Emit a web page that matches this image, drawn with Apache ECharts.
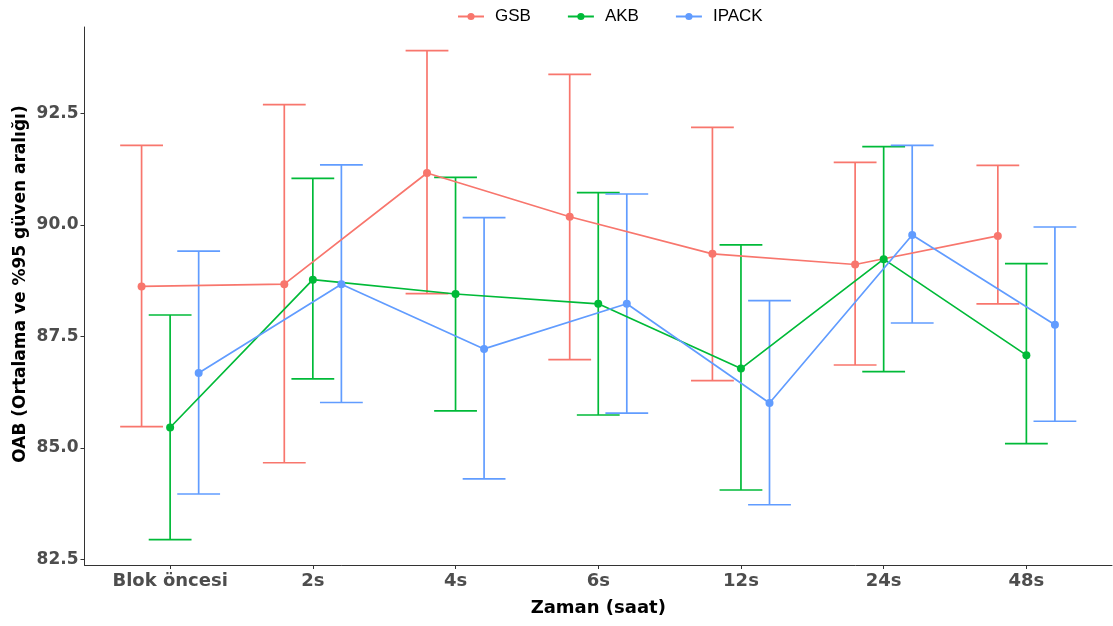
<!DOCTYPE html>
<html><head><meta charset="utf-8">
<script src="https://cdn.jsdelivr.net/npm/echarts@6/dist/echarts.min.js"></script>
<style>html,body{margin:0;padding:0;background:#fff}#c{width:1113px;height:626px}</style>
</head><body><div id="c"></div>
<script>
const categories = ['Blok öncesi','2s','4s','6s','12s','24s','48s'];
const groups = ['GSB','AKB','IPACK'];
const gsbMean  = [88.62,88.67,91.16,90.18,89.35,89.11,89.75];
const gsbLower = [85.48,84.67,88.46,86.98,86.51,86.86,88.23];
const gsbUpper = [91.78,92.69,93.90,93.37,92.18,91.40,91.33];
const akbMean  = [85.46,88.77,88.45,88.23,86.78,89.23,87.08];
const akbLower = [82.95,86.55,85.83,85.74,84.06,86.71,85.10];
const akbUpper = [87.98,91.04,91.06,90.72,89.55,91.75,89.13];
const ipackMean  = [86.68,88.67,87.22,88.23,86.01,89.77,87.76];
const ipackLower = [83.97,86.02,84.31,85.78,83.73,87.80,85.60];
const ipackUpper = [89.41,91.34,90.16,90.69,88.30,91.78,89.95];
const yTicks = [82.5,85.0,87.5,90.0,92.5];

const colors = ['#F8766D','#00BA38','#619CFF'];
const means = [gsbMean, akbMean, ipackMean];
const lowers = [gsbLower, akbLower, ipackLower];
const uppers = [gsbUpper, akbUpper, ipackUpper];
const dodge = [-0.2, 0, 0.2];
const capHalf = 0.15;
const xPos = categories.map((c,i)=>i+1);

function renderErr(color){
  return function(params, api){
    const x = api.value(0), lo = api.value(1), hi = api.value(2);
    const pLo = api.coord([x, lo]), pHi = api.coord([x, hi]);
    const hw = api.size([capHalf, 0])[0];
    const style = {stroke: color, lineWidth: 1.7, fill: null};
    return {type:'group', children:[
      {type:'line', shape:{x1:pLo[0],y1:pLo[1],x2:pHi[0],y2:pHi[1]}, style},
      {type:'line', shape:{x1:pLo[0]-hw,y1:pLo[1],x2:pLo[0]+hw,y2:pLo[1]}, style},
      {type:'line', shape:{x1:pHi[0]-hw,y1:pHi[1],x2:pHi[0]+hw,y2:pHi[1]}, style}
    ]};
  };
}

const series = [];
groups.forEach((g,k)=>{
  series.push({
    name: g, type: 'line',
    data: xPos.map((x,i)=>[x+dodge[k], means[k][i]]),
    symbol: 'circle', symbolSize: 8,
    lineStyle: {color: colors[k], width: 1.7},
    itemStyle: {color: colors[k]},
    z: 3
  });
});
groups.forEach((g,k)=>{
  series.push({
    name: g, type: 'custom', renderItem: renderErr(colors[k]),
    encode: {x:0, y:[1,2]},
    data: xPos.map((x,i)=>[x+dodge[k], lowers[k][i], uppers[k][i]]),
    z: 2, silent: true
  });
});

const chart = echarts.init(document.getElementById('c'), null, {renderer:'canvas'});
chart.setOption({
  animation: false,
  backgroundColor: '#fff',
  color: colors,
  legend: {
    data: groups, top: 3, left: 452, itemWidth: 26, itemHeight: 9, itemGap: 36,
    textStyle: {fontFamily: 'Liberation Sans', fontSize: 17, color: '#000', padding:[0,0,0,6]}
  },
  grid: {left: 84.5, right: 1, top: 27, bottom: 61, containLabel: false},
  xAxis: {
    type: 'value', min: 0.4, max: 7.6,
    splitLine: {show: false},
    axisLine: {show: true, lineStyle: {color: '#333', width: 1}},
    axisTick: {show: true, length: 4, lineStyle: {color: '#333'}, customValues: xPos},
    axisLabel: {
      customValues: xPos, margin: 7,
      formatter: v => categories[Math.round(v)-1],
      fontFamily: 'DejaVu Sans', fontWeight: 'bold', fontSize: 18, color: '#4D4D4D'
    },
    name: 'Zaman (saat)', nameLocation: 'middle', nameGap: 34,
    nameTextStyle: {fontFamily: 'DejaVu Sans', fontWeight: 'bold', fontSize: 18, color: '#000'}
  },
  yAxis: {
    type: 'value', min: 82.38, max: 94.43,
    splitLine: {show: false},
    axisLine: {show: true, lineStyle: {color: '#333', width: 1}},
    axisTick: {show: true, length: 4, lineStyle: {color: '#333'}, customValues: yTicks},
    axisLabel: {
      customValues: yTicks, margin: 6,
      formatter: v => v.toFixed(1),
      fontFamily: 'DejaVu Sans', fontWeight: 'bold', fontSize: 17, color: '#4D4D4D'
    }
  },
  graphic: [{
    type: 'text', x: 21, y: 284, rotation: Math.PI/2,
    style: {text: 'OAB (Ortalama ve %95 güven aralığı)', fontFamily: 'DejaVu Sans', fontWeight: 'bold',
            fontSize: 17, fill: '#000', textAlign: 'center', textVerticalAlign: 'middle'}
  }],
  series: series
});
</script>
</body></html>
